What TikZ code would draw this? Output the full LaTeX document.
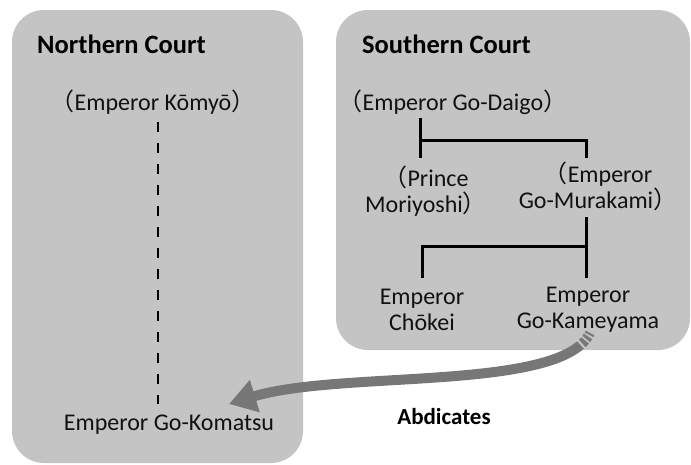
\documentclass[tikz,border=0pt]{standalone}
\usepackage{fontspec}
\setmainfont{Carlito}
\newfontfamily\cjkfont{Noto Sans CJK JP}
\usetikzlibrary{arrows.meta}
\newcommand{\myLP}{{\cjkfont （}}
\newcommand{\myRP}{{\cjkfont ）}}
\definecolor{panelgray}{HTML}{C4C4C4}
\definecolor{arrowgray}{HTML}{777777}
\definecolor{textc}{HTML}{111111}
\begin{document}
\begin{tikzpicture}[x=1pt,y=-1pt,
  panel/.style={fill=panelgray, draw=none, rounded corners=32pt, inner sep=0pt},
  lbl/.style={font=\fontsize{24}{26}\selectfont, align=center, inner sep=0pt, text=textc},
  ttl/.style={font=\fontsize{26.5}{30}\selectfont\bfseries, inner sep=0pt, anchor=west, text=black},
  tree/.style={line width=3pt, black},
  succ/.style={line width=2.6pt, black, dash pattern=on 10pt off 11pt},
  abd/.style={line width=10pt, arrowgray, -{Triangle[width=32pt,length=27pt]},
    dash pattern=on 2pt off 2pt on 3pt off 2pt on 4pt off 2.5pt on 800pt}]
\useasboundingbox (0,0) rectangle (691,464);
% panels
\node[panel, minimum width=291pt, minimum height=453pt] (north) at (157.5,236.5) {};
\node[panel, minimum width=354pt, minimum height=340pt] (south) at (513,180) {};
% titles
\node[ttl] (nt) at (37,44) {Northern Court};
\node[ttl] (st) at (362,44) {Southern Court};
% northern
\node[lbl] (komyo) at (153,102) {\myLP Emperor Kōmyō\myRP};
\node[lbl] (komatsu) at (169,425) {Emperor Go-Komatsu};
\coordinate (k1) at (158,122);
\coordinate (k2) at (158,404);
\draw[succ] (k1) -- (k2);
% southern
\node[lbl] (daigo) at (453,102) {\myLP Emperor Go-Daigo\myRP};
\node[lbl] (mori) at (426,191) {\myLP Prince\\Moriyoshi\myRP};
\node[lbl] (mura) at (598,186) {\myLP Emperor\\Go-Murakami\myRP};
\node[lbl] (chokei) at (422,310) {Emperor\\Chōkei};
\node[lbl] (kame) at (588,310) {Emperor\\Go-Kameyama};
\coordinate (t1) at (420,118);
\coordinate (t2) at (420,158);
\coordinate (t3) at (420,140);
\coordinate (t4) at (586,140);
\coordinate (t5) at (586,158);
\draw[tree] (t1) -- (t2);
\draw[tree] (t3) -- (t4) -- (t5);
\coordinate (u1) at (586,217);
\coordinate (u2) at (586,278);
\coordinate (u3) at (586,246);
\coordinate (u4) at (422,246);
\coordinate (u5) at (422,278);
\draw[tree] (u1) -- (u2);
\draw[tree] (u3) -- (u4) -- (u5);
% abdication arrow
\coordinate (a0) at (590,333);
\coordinate (a1) at (229,404);
\draw[abd] (a0) .. controls (562,392) and (340,370) .. (a1);
\node[font=\fontsize{23}{26}\selectfont\bfseries, inner sep=0pt, text=black] (abdl) at (444,417) {Abdicates};
\end{tikzpicture}
\end{document}
